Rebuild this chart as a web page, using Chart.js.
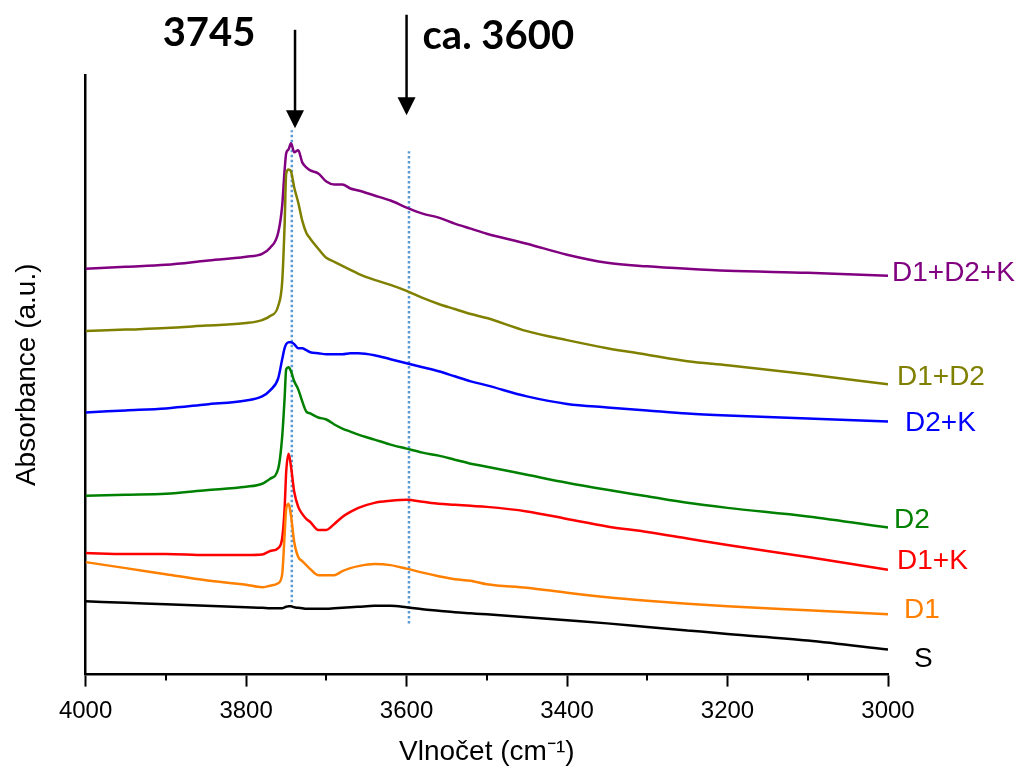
<!DOCTYPE html>
<html>
<head>
<meta charset="utf-8">
<title>IR spectra</title>
<script src="https://cdn.jsdelivr.net/npm/chart.js@4/dist/chart.umd.min.js"></script>
<style>
  html, body { margin: 0; padding: 0; background: #ffffff; }
  #wrap { width: 1022px; height: 767px; }
</style>
</head>
<body>
<div id="wrap"><canvas id="ir_chart" width="1022" height="767"></canvas></div>
<script>
const wavenumbers = [4000, 3950, 3900, 3850, 3800, 3780, 3770, 3760, 3755, 3752,
                     3750, 3747, 3744, 3740, 3735, 3730, 3725, 3720, 3710, 3700,
                     3690, 3680, 3670, 3660, 3640, 3620, 3600, 3580, 3560, 3540,
                     3520, 3500, 3450, 3400, 3350, 3300, 3250, 3200, 3100, 3000];

// Absorbance (a.u., stacked offsets as in the original figure)
const absS     = [0.73, 0.715, 0.70, 0.685, 0.67, 0.665, 0.66, 0.66, 0.66, 0.67,
                  0.675, 0.68, 0.68, 0.67, 0.665, 0.66, 0.655, 0.655, 0.655, 0.655,
                  0.66, 0.665, 0.67, 0.675, 0.685, 0.685, 0.67, 0.65, 0.635, 0.62,
                  0.61, 0.60, 0.57, 0.54, 0.51, 0.475, 0.44, 0.405, 0.34, 0.25];
const absD1    = [1.12, 1.06, 1.00, 0.94, 0.895, 0.87, 0.885, 0.91, 1.00, 1.39,
                  1.65, 1.70, 1.58, 1.32, 1.17, 1.13, 1.09, 1.05, 0.99, 0.99,
                  0.99, 1.03, 1.06, 1.08, 1.10, 1.09, 1.055, 1.015, 0.98, 0.95,
                  0.935, 0.90, 0.865, 0.815, 0.77, 0.735, 0.705, 0.68, 0.64, 0.60];
const absD1K   = [1.21, 1.20, 1.20, 1.19, 1.19, 1.195, 1.23, 1.26, 1.36, 1.65,
                  2.02, 2.20, 2.07, 1.82, 1.67, 1.60, 1.55, 1.52, 1.44, 1.44,
                  1.50, 1.57, 1.62, 1.66, 1.71, 1.73, 1.74, 1.72, 1.70, 1.69,
                  1.68, 1.67, 1.625, 1.55, 1.475, 1.42, 1.355, 1.29, 1.17, 1.045];
const absD2    = [1.78, 1.79, 1.80, 1.835, 1.87, 1.90, 1.95, 2.05, 2.37, 2.75,
                  3.04, 3.06, 3.02, 2.92, 2.84, 2.72, 2.62, 2.60, 2.56, 2.54,
                  2.49, 2.45, 2.42, 2.39, 2.34, 2.29, 2.25, 2.21, 2.18, 2.14,
                  2.10, 2.07, 1.99, 1.91, 1.84, 1.775, 1.71, 1.66, 1.575, 1.465];
const absD2K   = [2.61, 2.63, 2.65, 2.69, 2.73, 2.77, 2.83, 2.95, 3.14, 3.25,
                  3.29, 3.31, 3.31, 3.29, 3.25, 3.25, 3.23, 3.21, 3.20, 3.19,
                  3.19, 3.19, 3.20, 3.20, 3.18, 3.14, 3.10, 3.06, 3.02, 2.97,
                  2.92, 2.88, 2.77, 2.695, 2.66, 2.63, 2.60, 2.58, 2.55, 2.52];
const absD1D2  = [3.42, 3.435, 3.45, 3.475, 3.50, 3.53, 3.57, 3.67, 3.91, 4.47,
                  4.99, 5.03, 5.01, 4.85, 4.70, 4.52, 4.40, 4.34, 4.24, 4.15,
                  4.11, 4.07, 4.03, 3.99, 3.93, 3.88, 3.82, 3.75, 3.69, 3.64,
                  3.59, 3.55, 3.42, 3.33, 3.25, 3.185, 3.12, 3.08, 2.99, 2.89];
const absD1D2K = [4.04, 4.06, 4.08, 4.12, 4.16, 4.19, 4.25, 4.40, 4.67, 5.02,
                  5.19, 5.23, 5.29, 5.20, 5.22, 5.10, 5.05, 5.02, 4.99, 4.91,
                  4.88, 4.88, 4.84, 4.82, 4.77, 4.72, 4.65, 4.59, 4.55, 4.49,
                  4.44, 4.39, 4.29, 4.18, 4.10, 4.065, 4.04, 4.02, 4.00, 3.97];

const seriesNames  = ["S", "D1", "D1+K", "D2", "D2+K", "D1+D2", "D1+D2+K"];
const seriesValues = [absS, absD1, absD1K, absD2, absD2K, absD1D2, absD1D2K];
const seriesColors = ["#000000", "#ff8000", "#ff0000", "#008000", "#0000ff", "#808000", "#800080"];

// x-axis tick values
const majorTicks = [4000, 3800, 3600, 3400, 3200, 3000];
const minorTicks = [3900, 3700, 3500, 3300, 3100];

// Marked bands: dotted guide lines and arrows with their captions
const guideLines = [
    { x: 3743, from: 0.72, to: 5.42 },
    { x: 3597, from: 0.51, to: 5.21 }
];
const bandArrows = [
    { x: 3739, from: 6.42, to: 5.44, text: "3745" },
    { x: 3600, from: 6.57, to: 5.57, text: "ca. 3600" }
];

// label placement next to the end of each curve (pixels)
const labelNudge = {
    "S": [26, 10], "D1": [16, -4], "D1+K": [9, -8], "D2": [6, -7],
    "D2+K": [17, 2], "D1+D2": [9, -7], "D1+D2+K": [4, -3]
};
const captionNudge = [[-86, -82], [16, -66]];

const sansFont = "'Liberation Sans', Arial, sans-serif";

// Plugin drawing guide lines, minor ticks, arrows and curve labels
const annotations = {
    id: "annotations",
    beforeDatasetsDraw(chart) {
        const { ctx, scales: { x, y } } = chart;
        ctx.save();
        ctx.strokeStyle = "#5b9bd5";
        ctx.lineWidth = 2.5;
        ctx.setLineDash([2.5, 2.5]);
        guideLines.forEach(g => {
            const px = x.getPixelForValue(g.x);
            ctx.beginPath();
            ctx.moveTo(px, y.getPixelForValue(g.from));
            ctx.lineTo(px, y.getPixelForValue(g.to));
            ctx.stroke();
        });
        ctx.restore();
    },
    afterDraw(chart) {
        const { ctx, chartArea, scales: { x, y } } = chart;
        ctx.save();

        // minor ticks
        ctx.strokeStyle = "#000";
        ctx.lineWidth = 2;
        minorTicks.forEach(v => {
            const px = Math.round(x.getPixelForValue(v));
            ctx.beginPath();
            ctx.moveTo(px, chartArea.bottom);
            ctx.lineTo(px, chartArea.bottom + 6);
            ctx.stroke();
        });

        // arrows
        bandArrows.forEach((a, i) => {
            const px = x.getPixelForValue(a.x);
            const top = y.getPixelForValue(a.from);
            const tip = y.getPixelForValue(a.to);
            ctx.strokeStyle = "#000";
            ctx.fillStyle = "#000";
            ctx.lineWidth = 2.5;
            ctx.beginPath();
            ctx.moveTo(px, top);
            ctx.lineTo(px, tip - 16);
            ctx.stroke();
            ctx.beginPath();
            ctx.moveTo(px - 9, tip - 18);
            ctx.lineTo(px + 9, tip - 18);
            ctx.lineTo(px, tip);
            ctx.closePath();
            ctx.fill();

            ctx.font = "bold 40px Lato, 'Open Sans', sans-serif";
            ctx.textBaseline = "alphabetic";
            ctx.textAlign = i === 0 ? "center" : "left";
            ctx.fillText(a.text, px + captionNudge[i][0], tip + captionNudge[i][1]);
        });

        // curve labels
        ctx.font = "28px " + sansFont;
        ctx.textAlign = "left";
        ctx.textBaseline = "middle";
        chart.data.datasets.forEach(ds => {
            const last = ds.data[ds.data.length - 1];
            const nudge = labelNudge[ds.label];
            ctx.fillStyle = ds.borderColor;
            ctx.fillText(ds.label,
                x.getPixelForValue(last.x) + nudge[0],
                y.getPixelForValue(last.y) + nudge[1]);
        });
        ctx.restore();
    }
};

document.addEventListener("DOMContentLoaded", () => {
    createSpectraChart();
});

function createSpectraChart()
{
    const canvas = document.getElementById("ir_chart");

    const datasets = seriesNames.map((name, i) => ({
        label: name,
        data: wavenumbers.map((w, j) => ({ x: w, y: seriesValues[i][j] })),
        borderColor: seriesColors[i],
        borderWidth: 2.5,
        pointRadius: 0,
        cubicInterpolationMode: "monotone",
        fill: false
    }));

    new Chart(canvas, {
        type: "line",
        data: { datasets: datasets },
        options: {
            responsive: false,
            animation: false,
            devicePixelRatio: 1,
            layout: { padding: { top: 75, right: 134, bottom: -2, left: 0 } },
            plugins: {
                legend: { display: false },
                tooltip: { enabled: false }
            },
            scales: {
                x: {
                    type: "linear",
                    reverse: true,
                    min: 3000,
                    max: 4000,
                    afterBuildTicks: (scale) => {
                        scale.ticks = majorTicks.map(v => ({ value: v }));
                    },
                    ticks: {
                        color: "#000",
                        padding: 10,
                        maxRotation: 0,
                        font: { family: sansFont, size: 24 },
                        callback: (value) => String(value)
                    },
                    grid: {
                        drawOnChartArea: false,
                        drawTicks: true,
                        tickLength: 12,
                        tickWidth: 2,
                        tickColor: "#000"
                    },
                    border: { display: true, color: "#000", width: 2.5 },
                    title: {
                        display: true,
                        text: "Vlnočet (cm⁻¹)",
                        color: "#000",
                        font: { family: sansFont, size: 28 },
                        padding: { top: 0, bottom: 0 }
                    }
                },
                y: {
                    min: 0,
                    max: 5.97,
                    ticks: { display: false },
                    grid: { display: false, drawTicks: false },
                    border: { display: true, color: "#000", width: 2.5 },
                    title: {
                        display: true,
                        text: "Absorbance (a.u.)",
                        color: "#000",
                        font: { family: sansFont, size: 28 },
                        padding: { top: 10, bottom: 42 }
                    }
                }
            }
        },
        plugins: [annotations]
    });
}
</script>
</body>
</html>
